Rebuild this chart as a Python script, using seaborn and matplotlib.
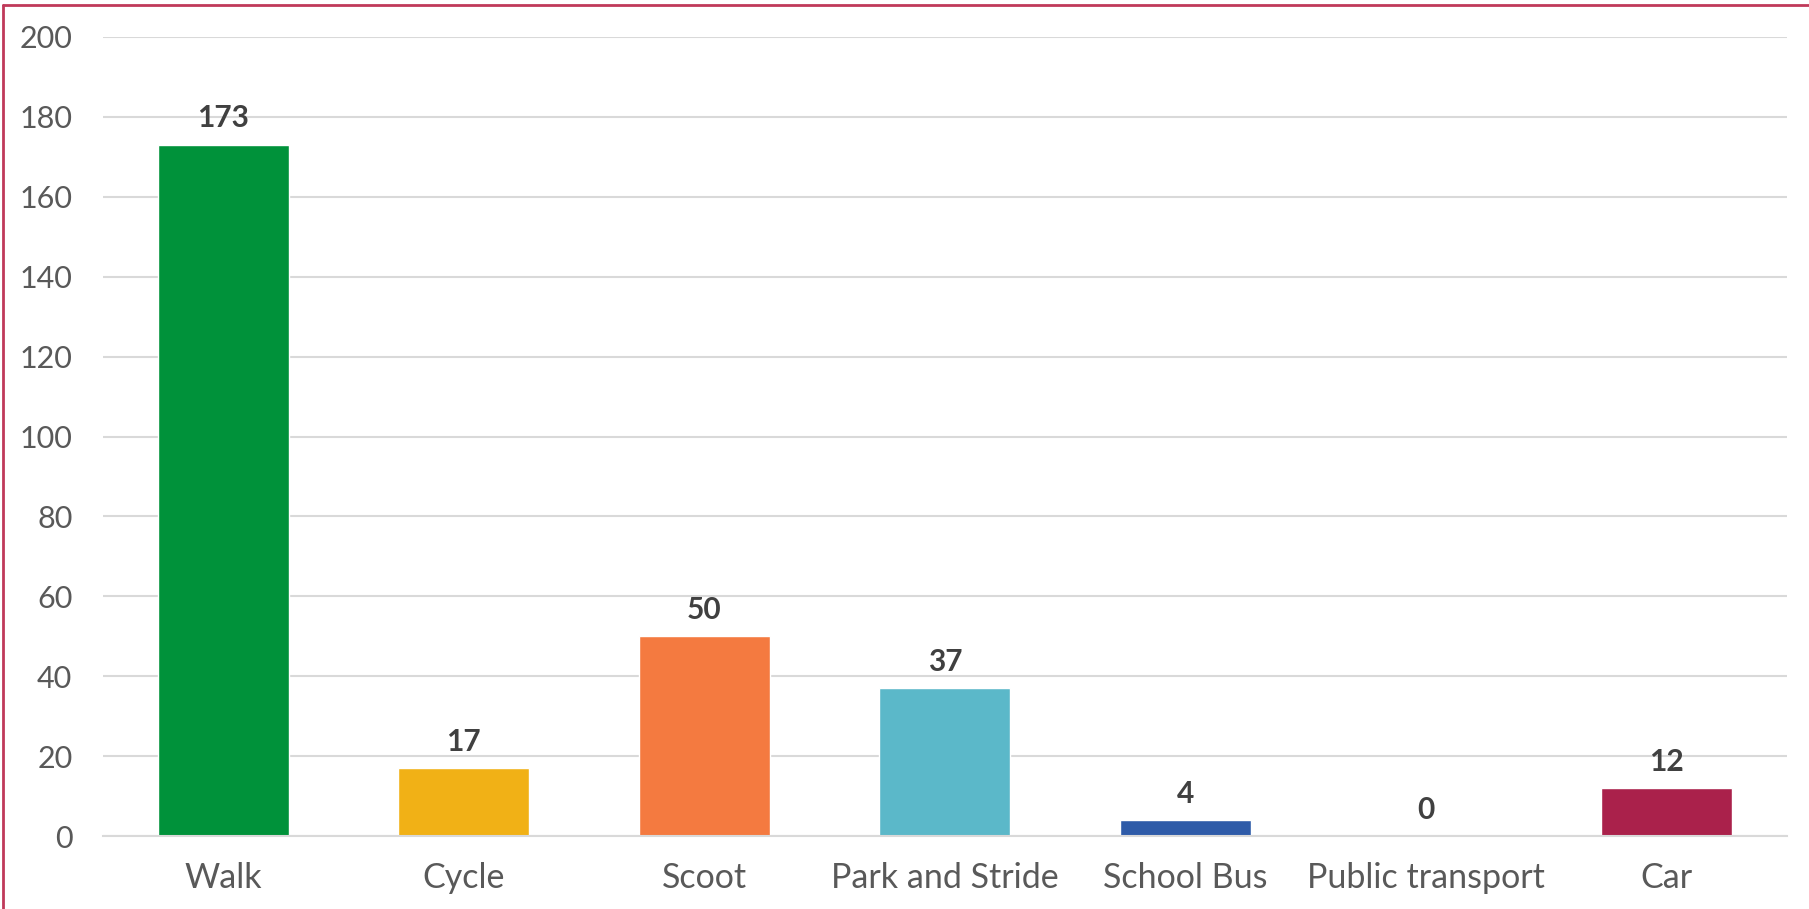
import matplotlib
matplotlib.use("Agg")
import matplotlib.pyplot as plt
import seaborn as sns
import pandas as pd
from matplotlib.lines import Line2D

# -----------------------------
# Data
# -----------------------------
modes = ["Walk", "Cycle", "Scoot", "Park and Stride", "School Bus", "Public transport", "Car"]
counts = [173, 17, 50, 37, 4, 0, 12]
colors = ["#00923A", "#F1B116", "#F47A40", "#5BB8C9", "#2E5BA8", "#7F7F7F", "#AA214B"]
y_ticks = [0, 20, 40, 60, 80, 100, 120, 140, 160, 180, 200]

df = pd.DataFrame({"mode": modes, "count": counts})

# -----------------------------
# Plot
# -----------------------------
sns.set_theme(style="white")
plt.rcParams["font.family"] = ["Lato", "DejaVu Sans"]

fig = plt.figure(figsize=(18.09, 9.09), dpi=100)
ax = fig.add_axes([0.0569, 0.0803, 0.9309, 0.879])

sns.barplot(data=df, x="mode", y="count", hue="mode", palette=colors,
            legend=False, width=0.545, saturation=1, ax=ax)

ax.set_ylim(0, 200)
ax.set_yticks(y_ticks)
ax.yaxis.grid(True, color="#D9D9D9", linewidth=1.5)
ax.set_axisbelow(True)
for side in ["top", "right", "left"]:
    ax.spines[side].set_visible(False)
ax.spines["bottom"].set_color("#D9D9D9")
ax.spines["bottom"].set_linewidth(1.5)
ax.set_xlabel("")
ax.set_ylabel("")
ax.tick_params(axis="y", length=0, pad=22, labelsize=22, labelcolor="#595959")
ax.tick_params(axis="x", length=0, pad=19, labelsize=24.5, labelcolor="#595959")

for c in ax.containers:
    ax.bar_label(c, padding=9, fontsize=21.5, fontweight="bold", color="#404040")

# chart frame (only top and left edges visible)
fig.add_artist(Line2D([3 / 1809, 1], [1 - 5 / 909, 1 - 5 / 909], color="#C0395A", linewidth=2))
fig.add_artist(Line2D([3 / 1809, 3 / 1809], [0, 1 - 5 / 909], color="#C0395A", linewidth=2))

fig.savefig("out.png", dpi=100)
